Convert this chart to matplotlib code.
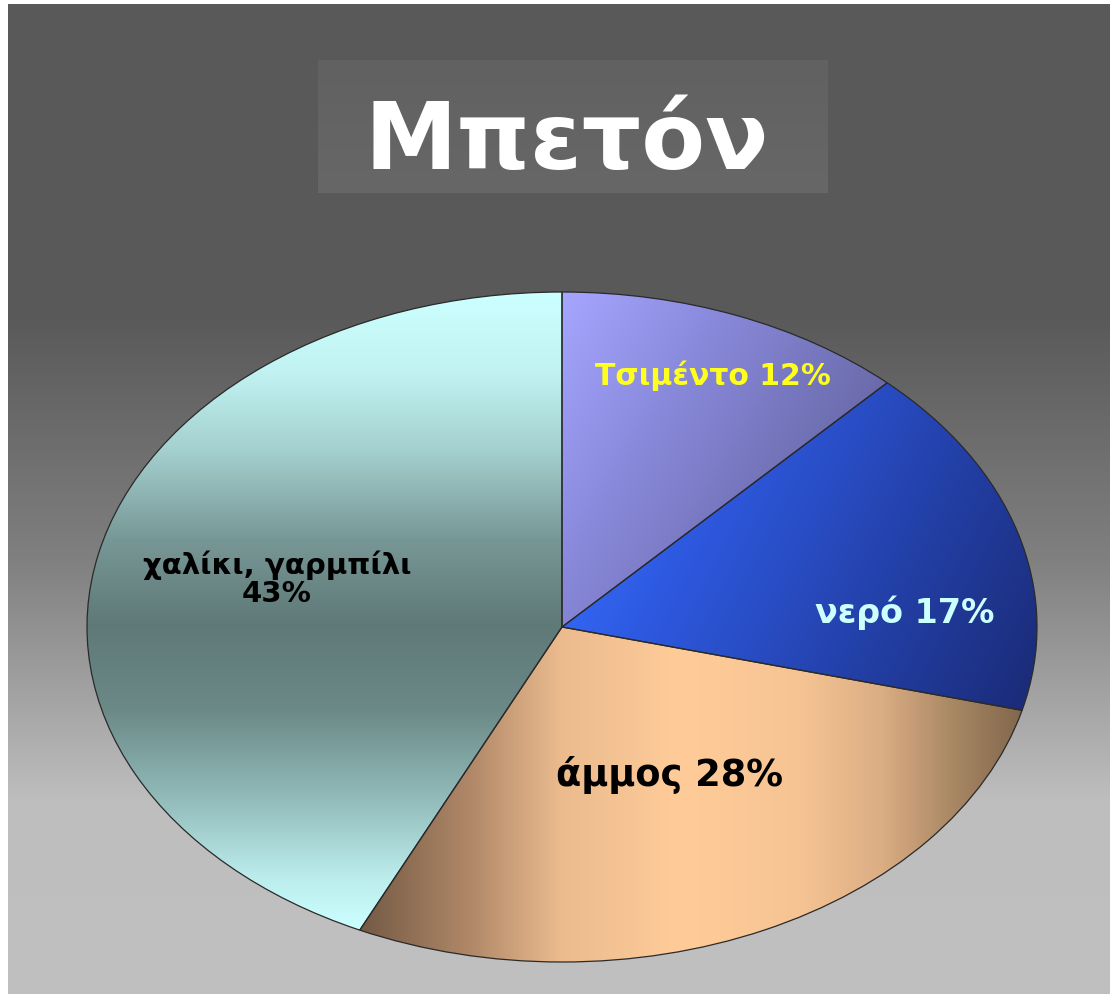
import numpy as np
import matplotlib
matplotlib.use("Agg")
import matplotlib.pyplot as plt
from matplotlib.patches import Rectangle
from matplotlib.colors import to_rgb

# ---------------- data ----------------
title = "Μπετόν"
categories = ["Τσιμέντο", "νερό", "άμμος", "χαλίκι, γαρμπίλι"]
shares = [12, 17, 28, 43]
label_texts = ["Τσιμέντο 12%", "νερό 17%", "άμμος 28%", "χαλίκι, γαρμπίλι\n43%"]

# ---------------- layout / style ----------------
W, H = 1110, 994
DPI = 100
fig = plt.figure(figsize=(W / DPI, H / DPI), dpi=DPI, facecolor="white")

# background gradient (figure pixels)
bg_ax = fig.add_axes([8 / W, 0, 1 - 8 / W, (H - 4) / H])
bg_ax.set_axis_off()
ys = np.arange(H - 4) + 4
bg_vals = np.interp(ys, [0, 320, 560, 800, 994], [0x59, 0x5a, 0x80, 0xbe, 0xc0]) / 255.0
bg_img = np.repeat(bg_vals[:, None], 2, axis=1)
bg_ax.imshow(np.dstack([bg_img] * 3), aspect="auto", origin="upper",
             extent=[0, 1, 0, 1], interpolation="bilinear")
bg_ax.set_xlim(0, 1)
bg_ax.set_ylim(0, 1)

# title box (subtle vertical gradient) + title
box_ax = fig.add_axes([318 / W, (H - 193) / H, 510 / W, 133 / H])
box_ax.set_axis_off()
box_vals = np.linspace(0x61, 0x67, 50) / 255.0
box_ax.imshow(np.dstack([np.repeat(box_vals[:, None], 2, axis=1)] * 3), aspect="auto",
              origin="upper", extent=[0, 1, 0, 1], interpolation="bilinear")
fig.text(567 / W, 1 - 143 / H, title, ha="center", va="center", color="white",
         fontsize=67, fontweight="bold", family="DejaVu Sans", zorder=5)

# pie axes: ellipse centre (562,627), rx=475, ry=335 in pixels
cx, cy, rx, ry = 562, 627, 475, 335
ax = fig.add_axes([(cx - rx) / W, (H - cy - ry) / H, 2 * rx / W, 2 * ry / H])
wedges, _ = ax.pie(shares, startangle=90, counterclock=False, radius=1,
                   wedgeprops=dict(edgecolor="#2a2a2a", linewidth=0.9))
ax.set_aspect("auto")
ax.set_xlim(-1, 1)
ax.set_ylim(-1, 1)
ax.set_axis_off()

# pixel grid of the pie bounding box
gw, gh = 950, 670
px = cx - rx + (np.arange(gw) + 0.5) * (2 * rx / gw)
py = cy - ry + (np.arange(gh) + 0.5) * (2 * ry / gh)
PX, PY = np.meshgrid(px, py)


def ramp(t, stops, colors):
    cols = np.array([to_rgb(c) for c in colors])
    return np.dstack([np.interp(t, stops, cols[:, k]) for k in range(3)])


grad_imgs = [
    ramp((PX - 562) + (PY - 292) * 0.6, [0, 150, 400], ["#a6a6ff", "#8c8ce0", "#6767a6"]),
    ramp((PX - 700) + (PY - 500) * 0.5, [-60, 0, 420], ["#3263ee", "#2e5ae2", "#1b2c7a"]),
    ramp(PX, [360, 470, 560, 680, 800, 880, 960, 1030],
         ["#735a45", "#b08868", "#ebbb8e", "#ffcc99", "#f6c493", "#dcae84", "#a48462", "#7d6349"]),
    ramp(PY, [292, 370, 450, 540, 625, 710, 800, 880, 930],
         ["#ccffff", "#c2f3f3", "#a4d0cf", "#779796", "#5f7977", "#6b8987", "#93bcbb", "#bdeeee", "#ccffff"]),
]

for w, img in zip(wedges, grad_imgs):
    im = ax.imshow(img, extent=[-1, 1, -1, 1], origin="upper", aspect="auto",
                   interpolation="bilinear", zorder=2)
    im.set_clip_path(w)
    w.set_facecolor("none")
    w.set_zorder(3)

# labels
label_pos = [(0.318, 0.749), (0.722, 0.042), (0.227, -0.442), (-0.600, 0.143)]
label_colors = ["#ffff1e", "#ccffff", "black", "black"]
label_sizes = [21.5, 24, 26.5, 21]
for txt, (lx, ly), col, fs in zip(label_texts, label_pos, label_colors, label_sizes):
    ax.text(lx, ly, txt, ha="center", va="center", color=col, fontsize=fs,
            fontweight="bold", family="DejaVu Sans", linespacing=1.0, zorder=5)

fig.savefig("out.png", dpi=DPI, facecolor="white")
